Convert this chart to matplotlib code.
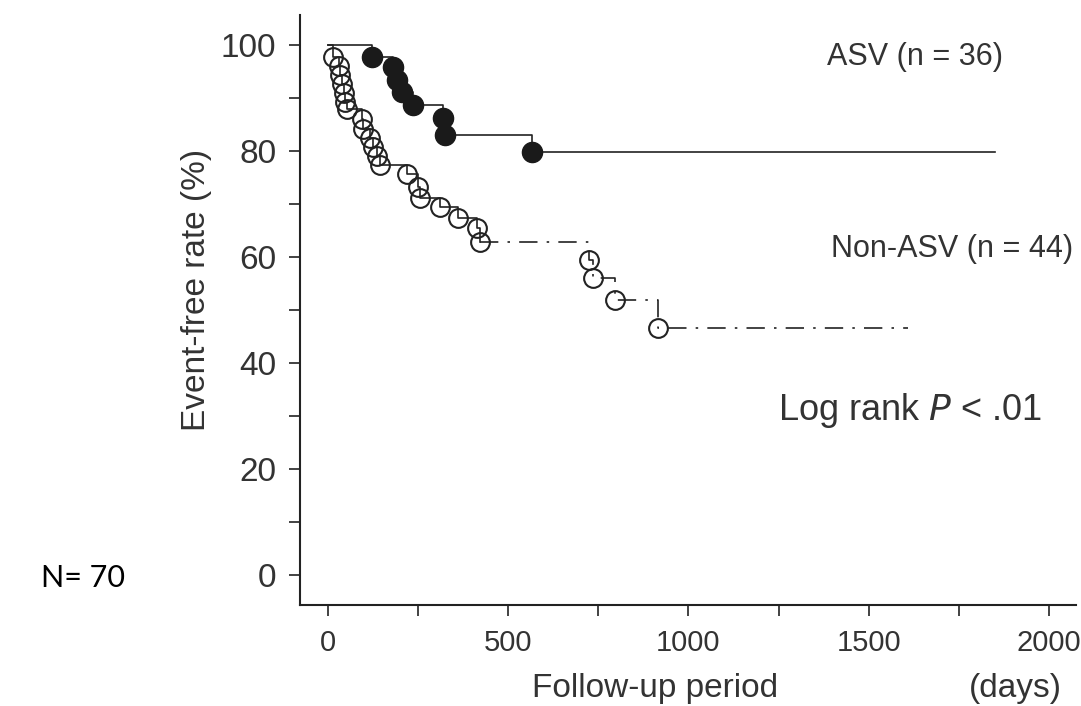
import matplotlib
matplotlib.use("Agg")
import matplotlib.pyplot as plt
from matplotlib import font_manager

plt.rcParams['font.family'] = ['Liberation Sans', 'DejaVu Sans']

# ASV group (filled circles at events)
asv_days = [0, 123, 181, 192, 206, 236, 320, 325, 567]
asv_rate = [100, 97.7, 95.8, 93.4, 91.1, 88.7, 86.2, 83.0, 79.8]
asv_end = 1850

# Non-ASV group (open circles at events)
non_days = [0, 15, 30, 34, 40, 45, 48, 52, 95, 99, 118, 126, 136, 145,
            220, 251, 256, 312, 362, 414, 422, 725, 735, 797, 915]
non_rate = [100, 97.7, 96.0, 94.3, 92.6, 91.0, 89.3, 88.0, 86.0, 84.2, 82.5,
            80.7, 79.0, 77.3, 75.6, 73.3, 71.1, 69.4, 67.3, 65.5, 62.8,
            59.4, 56.0, 51.9, 46.6]
non_end = 1610

xticks = [0, 500, 1000, 1500, 2000]
yticks = [0, 20, 40, 60, 80, 100]

ink = '#222222'
txt = '#333333'

names = {f.name for f in font_manager.fontManager.ttflist}
narrow = 'Liberation Sans Narrow' if 'Liberation Sans Narrow' in names else None

fig = plt.figure(figsize=(10.81, 7.06), dpi=100)
W, H = 1081, 706
ax = fig.add_axes([300 / W, (H - 605) / H, (1076 - 300) / W, (605 - 15) / H])

# step curves
ax.step(asv_days + [asv_end], asv_rate + [asv_rate[-1]], where='post',
        color=ink, lw=1.2, zorder=2)
ax.plot(asv_days[1:], asv_rate[1:], 'o', ms=14.5, color='#1a1a1a', zorder=3)

k = non_days.index(422)
ax.step(non_days[:k + 1], non_rate[:k + 1], where='post', color=ink, lw=1.2, zorder=2)
ax.step(non_days[k:] + [non_end], non_rate[k:] + [non_rate[-1]], where='post',
        color=ink, lw=1.2, dashes=(11, 5.5, 1.5, 5.5), zorder=2)
ax.plot(non_days[1:], non_rate[1:], 'o', ms=13.5, mfc='none', mec=ink, mew=1.5, zorder=3)

ax.set_xlim(-77, 2075)
ax.set_ylim(-5.66, 105.66)
ax.set_xticks([250 * i for i in range(9)])
ax.set_xticklabels([str(v) if v in xticks else '' for v in range(0, 2001, 250)])
ax.set_yticks(list(range(0, 101, 10)))
ax.set_yticklabels([str(v) if v in yticks else '' for v in range(0, 101, 10)])
ax.tick_params(direction='out', length=8, width=1.2, colors=ink, labelcolor=txt,
               labelsize=24)
ax.tick_params(axis='x', pad=9)
ax.tick_params(axis='y', pad=9)
for lab in ax.get_xticklabels():
    if narrow:
        lab.set_family([narrow, 'DejaVu Sans'])
    else:
        lab.set_fontsize(21)
for s in ['top', 'right']:
    ax.spines[s].set_visible(False)
for s in ['left', 'bottom']:
    ax.spines[s].set_linewidth(1.5)
    ax.spines[s].set_color(ink)

fig.text(915 / W, 1 - 57 / H, 'ASV (n = 36)', fontsize=22, color=txt,
         ha='center', va='center')
fig.text(952 / W, 1 - 249 / H, 'Non-ASV (n = 44)', fontsize=22, color=txt,
         ha='center', va='center')
fig.text(910 / W, 1 - 410 / H, 'Log rank $\\it{P}$ < .01', fontsize=26, color=txt,
         ha='center', va='center')

fig.text(197 / W, 1 - 290 / H, 'Event-free rate (%)', rotation=90, fontsize=24,
         color=txt, ha='center', va='center')
fig.text(655 / W, 1 - 688 / H, 'Follow-up period', fontsize=24, color=txt,
         ha='center', va='center')
fig.text(1015 / W, 1 - 688 / H, '(days)', fontsize=24, color=txt,
         ha='center', va='center')
fig.text(83 / W, 1 - 578 / H, 'N= 70', fontsize=22, color='black',
         family=['Lato', 'DejaVu Sans'], ha='center', va='center')

fig.savefig('out.png', dpi=100)
